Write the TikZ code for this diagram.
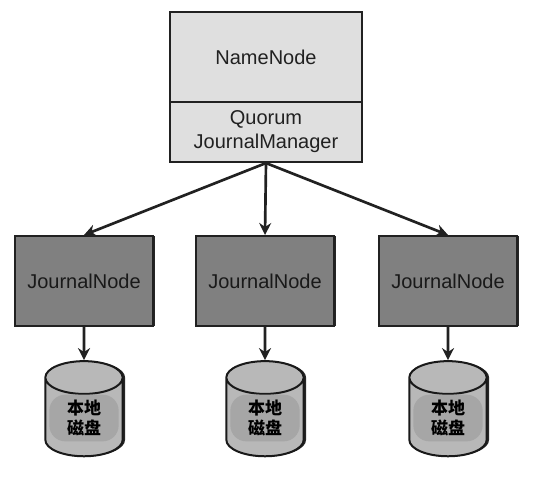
\documentclass[tikz,border=0pt]{standalone}
\usepackage{fontspec}
\setmainfont{Liberation Sans}
\newfontfamily\cjk{Noto Sans CJK SC}
\usetikzlibrary{shapes.geometric,shadows,arrows.meta}
\definecolor{namefill}{gray}{0.875}
\definecolor{journalfill}{gray}{0.5}
\definecolor{diskbody}{gray}{0.72}
\definecolor{disklabel}{gray}{0.65}
\definecolor{edgedark}{gray}{0.13}
\begin{document}
\begin{tikzpicture}[x=0.75pt,y=-0.75pt,
namebox/.style={draw=edgedark,line width=1.6pt,fill=namefill,minimum width=144pt,text=edgedark,align=center,inner sep=0pt,font=\fontsize{15}{18}\selectfont},
journalbox/.style={draw=edgedark,line width=1.5pt,fill=journalfill,minimum width=103.5pt,minimum height=67.5pt,inner sep=0pt,text=black!90,font=\fontsize{15}{18}\selectfont,
general shadow={shadow xshift=1.8pt,shadow yshift=0pt,fill=black!85}},
disk/.style={cylinder,shape border rotate=90,aspect=0.424,draw=black!90,line width=1.5pt,fill=diskbody,inner xsep=29pt,inner ysep=23pt,
general shadow={shadow xshift=1.8pt,shadow yshift=0pt,fill=black!85}},
disktext/.style={fill=disklabel,rounded corners=12pt,minimum width=52pt,minimum height=35pt,inner sep=0pt,align=center,font=\cjk\bfseries\fontsize{12.75}{15}\selectfont},
link/.style={draw=edgedark,line width=2pt,-{Stealth[length=9pt,width=9pt]}}]
\useasboundingbox (0,0) rectangle (547,493);
\node [namebox,minimum height=67.5pt] (namenode) at (266,57) {NameNode};
\node [namebox,minimum height=45pt] (quorum) at (266,132) {Quorum\\JournalManager};
\node [journalbox] (jn1) at (84,281) {JournalNode};
\node [journalbox] (jn2) at (265,281) {JournalNode};
\node [journalbox] (jn3) at (448,281) {JournalNode};
\node [disk] (disk1) at (84,425.6) {};
\node [disk] (disk2) at (265,425.6) {};
\node [disk] (disk3) at (448,425.6) {};
\node [disktext] (label1) at (84,418) {本地\\磁盘};
\node [disktext] (label2) at (265,418) {本地\\磁盘};
\node [disktext] (label3) at (448,418) {本地\\磁盘};
\draw [link] (quorum.south) -- (jn1.north);
\draw [link] (quorum.south) -- (jn2.north);
\draw [link] (quorum.south) -- (jn3.north);
\draw [link] (jn1.south) -- (disk1.north);
\draw [link] (jn2.south) -- (disk2.north);
\draw [link] (jn3.south) -- (disk3.north);
\end{tikzpicture}
\end{document}
